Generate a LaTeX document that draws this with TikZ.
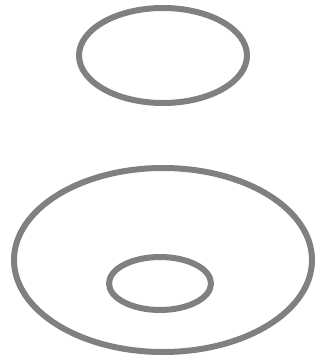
\documentclass[tikz,border=0pt]{standalone}
\usepackage{tikz}

\begin{document}
\begin{tikzpicture}[
    x=1pt, y=-1pt,
    ring/.style={draw=black!50, line width=6pt}
]

\useasboundingbox (0,0) rectangle (323,364);

\draw [ring] (163,55.5) ellipse [x radius=84, y radius=47.5];
\draw [ring] (163,260) ellipse [x radius=149, y radius=92];
\draw [ring] (160,283.5) ellipse [x radius=51, y radius=26.5];

\end{tikzpicture}
\end{document}
